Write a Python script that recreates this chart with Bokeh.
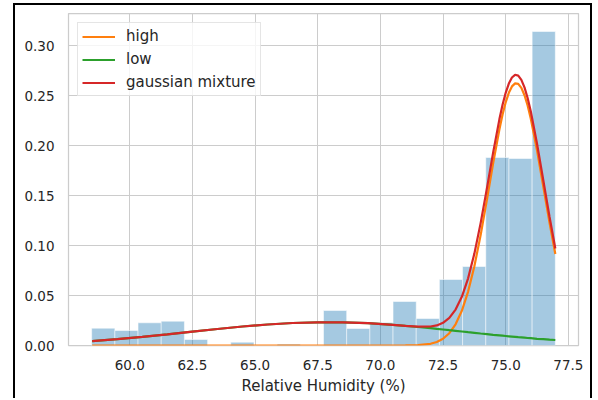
from bokeh.plotting import figure
from bokeh.models import Range1d, FixedTicker, PrintfTickFormatter, Legend, LegendItem
from bokeh.embed import file_html
from bokeh.resources import INLINE

# ---- data ----
bin_edges = [58.48, 59.405, 60.33, 61.255, 62.18, 63.105, 64.03, 64.955, 65.88, 66.805,
             67.73, 68.655, 69.58, 70.505, 71.43, 72.355, 73.28, 74.205, 75.13, 76.055, 76.98]
bin_density = [0.0173, 0.015, 0.0227, 0.0243, 0.006, 0.0, 0.0033, 0.0, 0.0015, 0.0,
               0.035, 0.017, 0.023, 0.044, 0.027, 0.066, 0.079, 0.188, 0.187, 0.314]

curve_x = [58.5, 59.5, 60.5, 61.5, 62.5, 63.5, 64.5, 65.5, 66.5, 67.5, 68.5, 69.5, 70.5,
           71.0, 71.5, 72.0, 72.25, 72.5, 72.75, 73.0, 73.25, 73.5, 73.75, 74.0, 74.25,
           74.5, 74.75, 74.875, 75.0, 75.125, 75.25, 75.375, 75.5, 75.625, 75.75, 75.875,
           76.0, 76.25, 76.5, 76.75, 76.98]
high = [0.0, 0.0, 0.0, 0.0, 0.0, 0.0, 0.0, 0.0, 0.0, 0.0, 0.0, 0.0, 0.0,
        0.0001, 0.0004, 0.0017, 0.0035, 0.0067, 0.0123, 0.0212, 0.0347, 0.0539, 0.0792, 0.1104, 0.1457,
        0.1824, 0.2163, 0.2309, 0.2432, 0.2527, 0.2591, 0.2621, 0.2616, 0.2576, 0.2503, 0.2400,
        0.2270, 0.1951, 0.1590, 0.1227, 0.0915]
low = [0.0043, 0.0063, 0.0086, 0.0112, 0.0139, 0.0165, 0.0190, 0.0210, 0.0225, 0.0232, 0.0232, 0.0223, 0.0207,
       0.0196, 0.0185, 0.0173, 0.0166, 0.0160, 0.0153, 0.0147, 0.0140, 0.0133, 0.0127, 0.0120, 0.0114,
       0.0107, 0.0101, 0.0098, 0.0095, 0.0092, 0.0089, 0.0086, 0.0083, 0.0081, 0.0078, 0.0075,
       0.0073, 0.0067, 0.0063, 0.0058, 0.0055]
mixture = [0.0043, 0.0063, 0.0086, 0.0112, 0.0139, 0.0165, 0.0190, 0.0210, 0.0225, 0.0232, 0.0232, 0.0223, 0.0207,
           0.0197, 0.0189, 0.0190, 0.0201, 0.0227, 0.0276, 0.0359, 0.0487, 0.0672, 0.0919, 0.1224, 0.1571,
           0.1931, 0.2264, 0.2407, 0.2527, 0.2619, 0.2680, 0.2707, 0.2699, 0.2657, 0.2581, 0.2475,
           0.2343, 0.2018, 0.1653, 0.1285, 0.0970]

x_ticks = [60.0, 62.5, 65.0, 67.5, 70.0, 72.5, 75.0, 77.5]
y_ticks = [0.0, 0.05, 0.10, 0.15, 0.20, 0.25, 0.30]
series_labels = ["high", "low", "gaussian mixture"]
x_label = "Relative Humidity (%)"

FONT = "DejaVu Sans"
TXT = "#262626"
GRID = "#cccccc"

p = figure(width=579, height=395, output_backend="svg", toolbar_location=None,
           x_range=Range1d(57.555, 77.905), y_range=Range1d(0, 0.332),
           min_border_left=53, min_border_right=16, min_border_top=8, min_border_bottom=55)
p.styles = {"margin-left": "13px", "margin-top": "3px",
            "border-left": "2px solid black", "border-top": "2px solid black",
            "border-right": "2px solid black"}

p.background_fill_color = "white"
p.border_fill_color = "white"
p.outline_line_color = GRID
p.outline_line_width = 1.25

p.quad(left=bin_edges[:-1], right=bin_edges[1:], top=bin_density, bottom=0,
       fill_color="#1f77b4", fill_alpha=0.4, line_color="white", line_alpha=0.5, line_width=1)

r_high = p.line(curve_x, high, line_color="#ff7f0e", line_width=2.2)
r_low = p.line(curve_x, low, line_color="#2ca02c", line_width=2.2)
r_mix = p.line(curve_x, mixture, line_color="#d62728", line_width=2.2)

for ax, ticks, fmt in ((p.xaxis[0], x_ticks, "%.1f"), (p.yaxis[0], y_ticks, "%.2f")):
    ax.ticker = FixedTicker(ticks=ticks)
    ax.formatter = PrintfTickFormatter(format=fmt)
    ax.axis_line_color = None
    ax.major_tick_line_color = None
    ax.minor_tick_line_color = None
    ax.major_label_text_font = FONT
    ax.major_label_text_font_size = "13.5px"
    ax.major_label_text_color = TXT
    ax.major_label_standoff = 8

p.xaxis[0].axis_label = x_label
p.xaxis[0].axis_label_text_font = FONT
p.xaxis[0].axis_label_text_font_size = "15px"
p.xaxis[0].axis_label_text_font_style = "normal"
p.xaxis[0].axis_label_text_color = TXT
p.xaxis[0].axis_label_standoff = 4

p.xgrid.ticker = FixedTicker(ticks=x_ticks)
p.ygrid.ticker = FixedTicker(ticks=y_ticks)
for g in (p.xgrid[0], p.ygrid[0]):
    g.grid_line_color = GRID
    g.grid_line_width = 1

legend = Legend(items=[LegendItem(label=series_labels[0], renderers=[r_high]),
                       LegendItem(label=series_labels[1], renderers=[r_low]),
                       LegendItem(label=series_labels[2], renderers=[r_mix])],
                location="top_left", margin=9, padding=4, spacing=5,
                label_height=17, glyph_height=17, glyph_width=33, label_standoff=11,
                label_text_font=FONT, label_text_font_size="15px", label_text_color=TXT,
                border_line_color=GRID, border_line_width=1,
                background_fill_color="white", background_fill_alpha=0.8)
p.add_layout(legend)

open("out.html", "w").write(file_html(p, INLINE))
